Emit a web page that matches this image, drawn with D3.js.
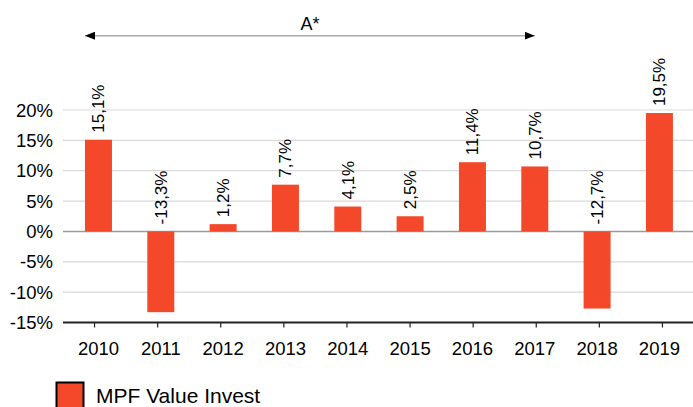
<!DOCTYPE html>
<html>
<head>
<meta charset="utf-8">
<script src="https://cdn.jsdelivr.net/npm/d3@7"></script>
<style>
  html, body { margin: 0; padding: 0; background: #fff; }
  svg { display: block; font-family: Arial, "Liberation Sans", sans-serif; }
</style>
</head>
<body>
<svg id="chart" width="693" height="407"></svg>
<script>
// data
const years = ["2010", "2011", "2012", "2013", "2014", "2015", "2016", "2017", "2018", "2019"];
const returns = [15.1, -13.3, 1.2, 7.7, 4.1, 2.5, 11.4, 10.7, -12.7, 19.5];
const yTicks = [20, 15, 10, 5, 0, -5, -10, -15];
const seriesName = "MPF Value Invest";
const periodLabel = "A*";
const periodRange = ["2010", "2017"];

const width = 693, height = 407;
const barColor = "#F4482A";

const svg = d3.select("#chart");

/* scales */
const y = d3.scaleLinear().domain([-15, 20]).range([322.5, 110]);

// bars
const x = d3.scaleBand()
    .domain(years)
    .range([67.3, 690.6])
    .paddingInner(0.567)
    .paddingOuter(0.2835);

// axis tick marks sit on a slightly wider band
const xTick = d3.scaleBand()
    .domain(years)
    .range([63, 694]);

/* gridlines */
svg.append("g")
    .selectAll("line")
    .data(yTicks.filter(d => d !== -15))
    .enter()
    .append("line")
    .attr("x1", 63)
    .attr("x2", width)
    .attr("y1", d => y(d))
    .attr("y2", d => y(d))
    .attr("stroke", d => d === 0 ? "#9a9a9a" : "#d9d9d9")
    .attr("stroke-width", d => d === 0 ? 1.5 : 1.2);

/* y labels */
svg.append("g")
    .selectAll("text")
    .data(yTicks)
    .enter()
    .append("text")
    .attr("x", 53)
    .attr("y", d => y(d) + 6.5)
    .attr("text-anchor", "end")
    .attr("font-size", "18.5px")
    .attr("fill", "#000")
    .text(d => d + "%");

/* bars */
svg.append("g")
    .selectAll("rect")
    .data(returns)
    .enter()
    .append("rect")
    .attr("x", (d, i) => x(years[i]))
    .attr("width", x.bandwidth())
    .attr("y", d => y(Math.max(0, d)))
    .attr("height", d => Math.abs(y(d) - y(0)))
    .attr("fill", barColor);

/* value labels */
svg.append("g")
    .selectAll("text")
    .data(returns)
    .enter()
    .append("text")
    .attr("transform", (d, i) => {
        const cx = x(years[i]) + x.bandwidth() / 2 + 6;
        const yy = y(Math.max(0, d)) - 7;
        return `translate(${cx},${yy}) rotate(-90)`;
    })
    .attr("font-size", "17px")
    .attr("fill", "#000")
    .text(d => d.toFixed(1).replace(".", ",") + "%");

/* x axis */
const axisY = y(-15);
svg.append("line")
    .attr("x1", 63)
    .attr("x2", width)
    .attr("y1", axisY)
    .attr("y2", axisY)
    .attr("stroke", "#222")
    .attr("stroke-width", 2);

svg.append("g")
    .selectAll("line")
    .data(years)
    .enter()
    .append("line")
    .attr("x1", d => xTick(d) + xTick.bandwidth() / 2)
    .attr("x2", d => xTick(d) + xTick.bandwidth() / 2)
    .attr("y1", axisY)
    .attr("y2", axisY + 5)
    .attr("stroke", "#222")
    .attr("stroke-width", 1.2);

svg.append("g")
    .selectAll("text")
    .data(years)
    .enter()
    .append("text")
    .attr("x", d => x(d) + x.bandwidth() / 2)
    .attr("y", 354.5)
    .attr("text-anchor", "middle")
    .attr("font-size", "18.5px")
    .attr("fill", "#000")
    .text(d => d);

/* period arrow */
const defs = svg.append("defs");
defs.append("marker")
    .attr("id", "arrowEnd")
    .attr("viewBox", "0 0 10 8")
    .attr("refX", 10)
    .attr("refY", 4)
    .attr("markerWidth", 10)
    .attr("markerHeight", 8)
    .attr("markerUnits", "userSpaceOnUse")
    .attr("orient", "auto-start-reverse")
    .append("path")
    .attr("d", "M0,0 L10,4 L0,8 Z")
    .attr("fill", "#000");

const ax1 = x(periodRange[0]);
const ax2 = x(periodRange[1]) + x.bandwidth() / 2;
const arrowY = 35.7;

svg.append("line")
    .attr("x1", ax1)
    .attr("x2", ax2)
    .attr("y1", arrowY)
    .attr("y2", arrowY)
    .attr("stroke", "#aaa")
    .attr("stroke-width", 1.5)
    .attr("marker-start", "url(#arrowEnd)")
    .attr("marker-end", "url(#arrowEnd)");

svg.append("text")
    .attr("x", 310)
    .attr("y", 30)
    .attr("text-anchor", "middle")
    .attr("font-size", "18px")
    .attr("fill", "#000")
    .text(periodLabel);

/* legend */
svg.append("rect")
    .attr("x", 56.5)
    .attr("y", 382.5)
    .attr("width", 27)
    .attr("height", 30)
    .attr("fill", barColor)
    .attr("stroke", "#000")
    .attr("stroke-width", 2);

svg.append("text")
    .attr("x", 96)
    .attr("y", 403)
    .attr("font-size", "21px")
    .attr("fill", "#000")
    .text(seriesName);
</script>
</body>
</html>
